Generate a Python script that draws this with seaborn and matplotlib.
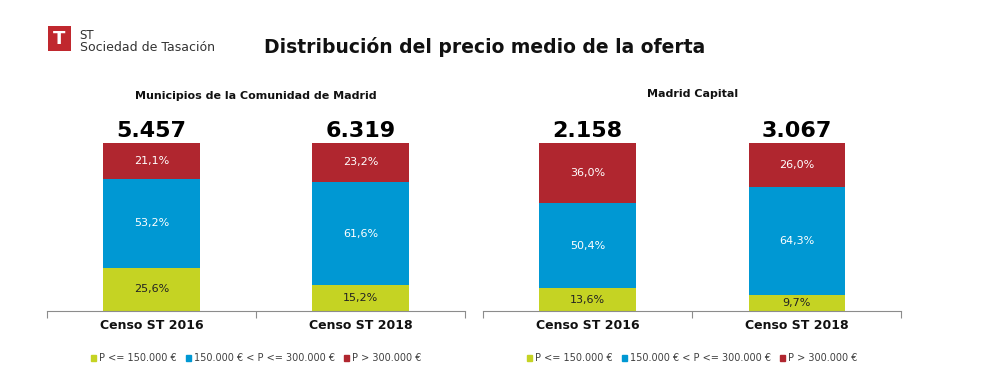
import matplotlib
matplotlib.use("Agg")
import matplotlib.pyplot as plt
import matplotlib.patches as mpatches
import seaborn as sns
import pandas as pd
import numpy as np

categories = ["Censo ST 2016", "Censo ST 2018"]
panel_titles = ["Municipios de la Comunidad de Madrid", "Madrid Capital"]
totals = [["5.457", "6.319"], ["2.158", "3.067"]]
low = [[25.6, 15.2], [13.6, 9.7]]
mid = [[53.2, 61.6], [50.4, 64.3]]
high = [[21.1, 23.2], [36.0, 26.0]]
series_names = ["P <= 150.000 €", "150.000 € < P <= 300.000 €", "P > 300.000 €"]
colors = ["#C5D323", "#0098D3", "#B0262F"]
label_colors = ["#222222", "white", "white"]

sns.set_theme(style="white")
plt.rcParams["font.family"] = ["DejaVu Sans"]

fig = plt.figure(figsize=(9.96, 3.89), dpi=100)

axes_pos = [[0.0472, 0.2005, 0.4197, 0.432], [0.485, 0.2005, 0.4197, 0.432]]
title_y = [1.28, 1.29]

def fmt(v):
    return f"{v:.1f}%".replace(".", ",")

for p in range(2):
    ax = fig.add_axes(axes_pos[p])
    df = pd.DataFrame({"cat": categories, "low": low[p], "mid": mid[p], "high": high[p]})
    df["c1"] = df["low"]
    df["c2"] = df["low"] + df["mid"]
    df["c3"] = df["c2"] + df["high"]
    for col, color in zip(["c3", "c2", "c1"], colors[::-1]):
        sns.barplot(data=df, x="cat", y=col, color=color, width=0.46, ax=ax,
                    saturation=1, linewidth=0, errorbar=None)
    for i in range(2):
        bottoms = [0, df["c1"][i], df["c2"][i]]
        vals = [df["low"][i], df["mid"][i], df["high"][i]]
        for b, v, lc in zip(bottoms, vals, label_colors):
            ax.text(i, b + v / 2, fmt(v), ha="center", va="center", fontsize=8, color=lc)
        ax.text(i, df["c3"][i] + 1.2, totals[p][i], ha="center", va="bottom",
                fontsize=16, fontweight="bold", color="black", clip_on=False)
    ax.set_xlim(-0.5, 1.5)
    ax.set_ylim(0, 100)
    ax.set_xlabel("")
    ax.set_ylabel("")
    ax.set_yticks([])
    for s in ["top", "right", "left"]:
        ax.spines[s].set_visible(False)
    ax.spines["bottom"].set_color("#8C8C8C")
    ax.spines["bottom"].set_linewidth(0.8)
    ax.set_xticks([0, 1])
    ax.set_xticklabels(categories, fontsize=9, fontweight="bold", color="#111111")
    ax.tick_params(axis="x", which="major", length=0, pad=6)
    ax.set_xticks([-0.5, 0.5, 1.5], minor=True)
    ax.tick_params(axis="x", which="minor", length=5, color="#8C8C8C", width=0.8, direction="out", bottom=True)
    ax.text(0.5, title_y[p], panel_titles[p], transform=ax.transAxes, ha="center", va="center",
            fontsize=8, fontweight="bold", color="#111111")
    handles = [mpatches.Patch(color=c, label=n) for c, n in zip(colors, series_names)]
    leg = ax.legend(handles=handles, loc="center", bbox_to_anchor=(0.5, -0.28), ncol=3,
                    frameon=False, fontsize=7, handlelength=0.55, handleheight=0.55,
                    handletextpad=0.3, columnspacing=0.9)
    for t in leg.get_texts():
        t.set_color("#404040")

fig.text(0.487, 0.878, "Distribución del precio medio de la oferta", ha="center", va="center",
         fontsize=13.5, fontweight="bold", color="#111111")

# logo
fig.patches.append(mpatches.Rectangle((0.048, 0.870), 0.023, 0.062, transform=fig.transFigure,
                                      facecolor="#C0282E", edgecolor="none"))
fig.text(0.0595, 0.900, "T", ha="center", va="center", fontsize=13, fontweight="bold", color="white")
fig.text(0.080, 0.910, "ST", ha="left", va="center", fontsize=8.5, color="#333333")
fig.text(0.080, 0.878, "Sociedad de Tasación", ha="left", va="center", fontsize=9, color="#333333")

fig.savefig("out.png", dpi=100, facecolor="white")
